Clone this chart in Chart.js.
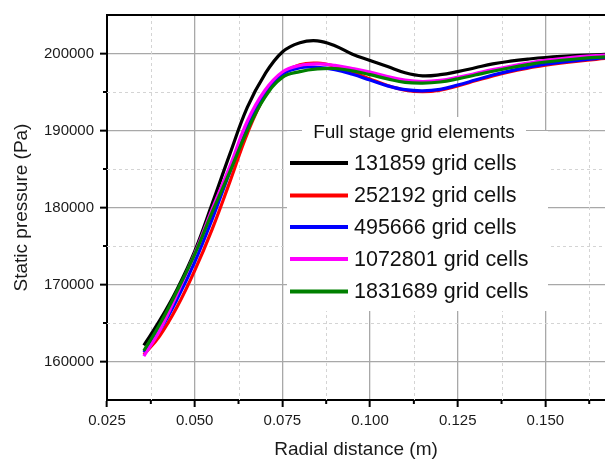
<!DOCTYPE html>
<html><head><meta charset="utf-8">
<script src="https://cdn.jsdelivr.net/npm/chart.js@4"></script>
<style>html,body{margin:0;padding:0;background:#fff}#wrap{width:605px;height:462px;position:relative}</style>
</head><body><div id="wrap"><canvas id="c"></canvas></div>
<script>
const radialDistance = [0.0355,0.040,0.045,0.050,0.055,0.060,0.065,0.070,0.075,0.080,0.085,0.090,0.095,0.100,0.105,0.110,0.115,0.120,0.125,0.130,0.135,0.140,0.145,0.150,0.160,0.167];
const cells131859  = [162100,165300,169400,174300,180500,186900,193000,197300,200200,201400,201650,201000,199900,199100,198300,197500,197100,197250,197650,198150,198650,199000,199270,199480,199750,199880];
const cells252192  = [160900,163300,167100,171800,177200,183300,189600,194500,197400,198550,198750,198350,197600,196700,195850,195250,195050,195250,195800,196450,197100,197650,198100,198500,199050,199350];
const cells495666  = [161200,164000,168100,172900,178500,184600,190400,194800,197300,198150,198200,197900,197300,196550,195800,195300,195150,195350,195900,196550,197200,197750,198200,198600,199150,199450];
const cells1072801 = [160700,164000,168800,174000,179800,185300,191200,195200,197600,198450,198650,198450,198050,197600,197000,196550,196350,196500,196900,197400,197900,198350,198750,199100,199600,199800];
const cells1831689 = [161400,164800,169200,173900,179400,184600,190000,194300,196900,197650,198000,198050,197750,197250,196700,196250,196150,196300,196700,197200,197700,198150,198550,198900,199350,199570];
const seriesLabels = ['131859 grid cells','252192 grid cells','495666 grid cells','1072801 grid cells','1831689 grid cells'];
const seriesColors = ['#000000','#ff0000','#0000ff','#ff00ff','#008000'];
const legendTitle = 'Full stage grid elements';
const xTickValues = [0.025,0.050,0.075,0.100,0.125,0.150];
const xTickLabels = ['0.025','0.050','0.075','0.100','0.125','0.150'];
const xMinorValues = [0.0375,0.0625,0.0875,0.1125,0.1375,0.1625];
const yTickValues = [160000,170000,180000,190000,200000];
const yTickLabels = ['160000','170000','180000','190000','200000'];
const yMinorValues = [165000,175000,185000,195000];
const xRange = [0.025,0.167];
const yRange = [155000,205000];

const FONT = "'Liberation Sans', Arial, sans-serif";
const seriesValues = [cells131859,cells252192,cells495666,cells1072801,cells1831689];

const datasets = seriesValues.map((vals,i)=>({
  label: seriesLabels[i],
  data: radialDistance.map((x,j)=>({x:x,y:vals[j]})),
  borderColor: seriesColors[i],
  backgroundColor: seriesColors[i],
  borderWidth: 3.2,
  pointRadius: 0,
  fill: false,
  tension: 0.4,
  cubicInterpolationMode: 'default',
  order: seriesValues.length - 1 - i
}));

const extras = {
  id: 'extras',
  beforeDatasetsDraw(chart){
    const {ctx, chartArea:a, scales:{x,y}} = chart;
    ctx.save();
    ctx.strokeStyle = '#d4d4d4';
    ctx.lineWidth = 1;
    ctx.setLineDash([3,3]);
    xMinorValues.forEach(v=>{
      const p = Math.round(x.getPixelForValue(v))+0.5;
      ctx.beginPath(); ctx.moveTo(p,a.top); ctx.lineTo(p,a.bottom); ctx.stroke();
    });
    yMinorValues.forEach(v=>{
      const p = Math.round(y.getPixelForValue(v))+0.5;
      ctx.beginPath(); ctx.moveTo(a.left,p); ctx.lineTo(a.right,p); ctx.stroke();
    });
    ctx.setLineDash([]);
    ctx.strokeStyle = '#000';
    ctx.lineWidth = 2;
    xMinorValues.forEach(v=>{
      const p = x.getPixelForValue(v);
      ctx.beginPath(); ctx.moveTo(p,a.bottom); ctx.lineTo(p,a.bottom+4); ctx.stroke();
    });
    yMinorValues.forEach(v=>{
      const p = y.getPixelForValue(v);
      ctx.beginPath(); ctx.moveTo(a.left,p); ctx.lineTo(a.left-4,p); ctx.stroke();
    });
    ctx.restore();
  },
  afterDatasetsDraw(chart){
    const {ctx, chartArea:a} = chart;
    ctx.save();
    ctx.strokeStyle = '#000'; ctx.lineWidth = 2;
    ctx.beginPath(); ctx.moveTo(a.left-1,a.top); ctx.lineTo(a.right,a.top); ctx.stroke();
    ctx.fillStyle = '#fff';
    ctx.fillRect(287,131,261,180);
    ctx.fillRect(302,117,224,28);
    ctx.fillStyle = '#111';
    ctx.textBaseline = 'middle';
    ctx.textAlign = 'center';
    ctx.font = '19px ' + FONT;
    ctx.fillText(legendTitle, 414, 133);
    ctx.textAlign = 'left';
    ctx.font = '21.5px ' + FONT;
    const rows = [163,195.5,227,259,291.5];
    chart.data.datasets.forEach((d,i)=>{
      ctx.strokeStyle = d.borderColor; ctx.lineWidth = 4;
      ctx.beginPath(); ctx.moveTo(290,rows[i]); ctx.lineTo(348,rows[i]); ctx.stroke();
      ctx.fillStyle = '#111';
      ctx.fillText(d.label, 354, rows[i]+1);
    });
    ctx.restore();
  }
};

new Chart(document.getElementById('c'), {
  type: 'line',
  data: { datasets },
  options: {
    responsive: true,
    maintainAspectRatio: false,
    animation: false,
    layout: { padding: { top: 13, right: 0, left: 0, bottom: 0 } },
    plugins: { legend: { display: false }, tooltip: { enabled: false } },
    scales: {
      x: {
        type: 'linear', min: xRange[0], max: xRange[1],
        afterBuildTicks: s => { s.ticks = xTickValues.map(v=>({value:v})); },
        afterFit: s => { s.height = 62; },
        ticks: { callback: (v,i) => xTickLabels[i], color: '#1a1a1a', font: { family: FONT, size: 15 }, padding: 5, maxRotation: 0, autoSkip: false },
        grid: { color: '#a8a8a8', lineWidth: 1.3, drawTicks: true, tickLength: 7, tickColor: '#000', tickWidth: 2 },
        border: { color: '#000', width: 2 },
        title: { display: true, text: 'Radial distance (m)', color: '#1a1a1a', font: { family: FONT, size: 19 }, padding: { top: 0, bottom: 1 } }
      },
      y: {
        type: 'linear', min: yRange[0], max: yRange[1],
        afterBuildTicks: s => { s.ticks = yTickValues.map(v=>({value:v})); },
        afterFit: s => { s.width = 107; },
        ticks: { callback: (v,i) => yTickLabels[i], color: '#1a1a1a', font: { family: FONT, size: 15 }, padding: 6, autoSkip: false },
        grid: { color: '#a8a8a8', lineWidth: 1.3, drawTicks: true, tickLength: 7, tickColor: '#000', tickWidth: 2 },
        border: { color: '#000', width: 2 },
        title: { display: true, text: 'Static pressure (Pa)', color: '#1a1a1a', font: { family: FONT, size: 19 }, padding: { top: 10, bottom: 0 } }
      }
    }
  },
  plugins: [extras]
});
</script></body></html>
